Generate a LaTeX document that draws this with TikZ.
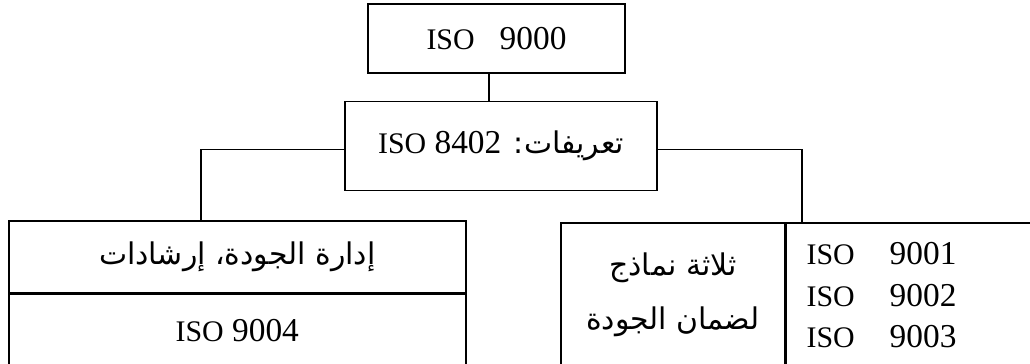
\documentclass[tikz,border=0pt]{standalone}
\usepackage{fontspec}
\setmainfont{Liberation Serif}
\newfontfamily\arabicfont[Script=Arabic]{DejaVu Sans}
\TeXXeTstate=1
\usepackage{tikz}
\usetikzlibrary{positioning}

\newcommand{\isoname}{{\fontsize{17}{20}\selectfont ISO}}

\begin{document}
\begin{tikzpicture}[
        box/.style={
            % The shape
            rectangle,
            % The border
            line width = 0.9pt,
            draw = black,
            % The color
            color = black,
            % Font
            font = \fontsize{19}{23.7}\selectfont,
            inner sep = 0pt
        },
        link/.style={
            line width = 0.9pt,
            draw = black
        },
    ]
        \useasboundingbox (0,0) rectangle (20.6,-7.28);

        \node (family) [box,minimum width=5.14cm,minimum height=1.38cm] at (9.93,-0.77) {\isoname\hspace{0.5cm}9000};

        \node (terms) [box,minimum width=6.24cm,minimum height=1.78cm,below=0.54cm of family,xshift=0.09cm] {{\arabicfont\fontsize{17}{20}\selectfont\beginR تعريفات: \beginL{\rmfamily\fontsize{19}{23.7}\selectfont\isoname\ 8402}\endL\endR}};
        \coordinate (trunk) at (9.78,0);
        \draw[link] (family.south -| trunk) -- (terms.north -| trunk);

        \node (guide) [box,anchor=north west,minimum width=9.14cm,minimum height=1.44cm] at (0.16,-4.4) {{\arabicfont\fontsize{17}{20}\selectfont\beginR إدارة الجودة، إرشادات\endR}};
        \node (iso9004) [box,minimum width=9.14cm,minimum height=1.44cm,below=0pt of guide] {\isoname\ 9004};
        \draw[link] ([yshift=-0.07cm]terms.west) -| ([xshift=-0.73cm]guide.north);

        \node (models) [box,align=center,minimum width=4.48cm,minimum height=2.88cm,below right=0.62cm and 4.32cm of terms.south west] {{\arabicfont\fontsize{17}{20}\selectfont\beginR ثلاثة نماذج\endR}\\[0.25cm]{\arabicfont\fontsize{17}{20}\selectfont\beginR لضمان الجودة\endR}};
        \node (parts) [box,align=left,text width=4.2cm,inner xsep=0.4cm,minimum height=2.88cm,right=0pt of models] {\isoname\hspace{0.7cm}9001\\ \isoname\hspace{0.7cm}9002\\ \isoname\hspace{0.7cm}9003};
        \draw[link] ([yshift=-0.07cm]terms.east) -| ([xshift=0.32cm]parts.north west);

    \end{tikzpicture}
\end{document}
